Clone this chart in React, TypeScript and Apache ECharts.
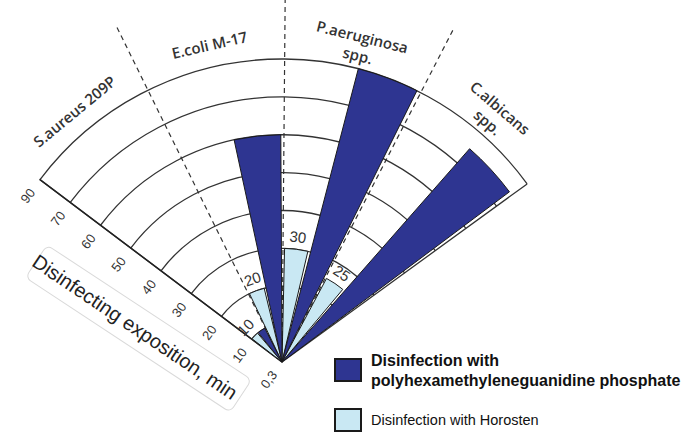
import React, { useEffect, useRef } from 'react';
import * as echarts from 'echarts';

// ---------------- data ----------------
const categories = ['S.aureus 209P', 'E.coli M-17', 'P.aeruginosa spp.', 'C.albicans spp.'];
const categoryLabels = ['S.aureus 209P', 'E.coli M-17', 'P.aeruginosa\nspp.', 'C.albicans\nspp.'];
const phmgValues = [10, 60, 90, 80];
const horostenValues = [10, 20, 30, 25];
const tickValues = [0.3, 10, 20, 30, 40, 50, 60, 70, 90];
const tickLabels = ['0,3', '10', '20', '30', '40', '50', '60', '70', '90'];
const seriesNames = [
  'Disinfection with polyhexamethyleneguanidine phosphate',
  'Disinfection with Horosten',
];
const axisTitle = 'Disinfecting exposition, min';

// ---------------- layout ----------------
const CX = 282;
const CY = 362;
const R = 303;
const R_DASH = 373;
const START = 143;
const END = 36;
const LABEL_R = 8.6;
const FONT = '"Liberation Sans", Arial, sans-serif';

// the radial scale is drawn with evenly spaced rings for the tick values
function toRingIndex(v: number): number {
  for (let i = 1; i < tickValues.length; i++) {
    if (v <= tickValues[i]) {
      const a = tickValues[i - 1];
      const b = tickValues[i];
      return i - 1 + (v - a) / (b - a);
    }
  }
  return tickValues.length - 1;
}

export default function App() {
  const ref = useRef<HTMLDivElement>(null);

  useEffect(() => {
    if (!ref.current) return;
    const chart = echarts.init(ref.current, undefined, { renderer: 'svg' });
    const step = (START - END) / categories.length;
    const hidden = { show: false };

    const legendBase = {
      orient: 'vertical',
      left: 329,
      itemWidth: 26,
      itemHeight: 22,
      icon: 'rect',
      selectedMode: false,
      textStyle: { color: '#111', lineHeight: 20, padding: [0, 0, 0, 5], fontFamily: FONT },
    };

    const option: any = {
      animation: false,
      backgroundColor: '#ffffff',
      textStyle: { fontFamily: FONT },
      polar: [
        { center: [CX, CY], radius: [0, R] },
        { center: [CX, CY], radius: [0, R_DASH] },
        { center: [CX, CY], radius: [0, R] },
      ],
      angleAxis: [
        {
          polarIndex: 0,
          type: 'category',
          data: categories,
          startAngle: START,
          endAngle: END,
          clockwise: true,
          axisLine: hidden,
          axisTick: hidden,
          axisLabel: hidden,
          splitLine: hidden,
        },
        {
          polarIndex: 1,
          type: 'category',
          data: categories.slice(1, 3),
          startAngle: START - step,
          endAngle: END + step,
          clockwise: true,
          axisLine: hidden,
          axisTick: hidden,
          axisLabel: hidden,
          splitLine: { show: true, lineStyle: { color: '#333', width: 1.2, type: [5, 4] } },
        },
        {
          polarIndex: 2,
          type: 'category',
          data: [''],
          startAngle: START,
          endAngle: END,
          clockwise: true,
          axisLine: hidden,
          axisTick: hidden,
          axisLabel: hidden,
          splitLine: { show: true, lineStyle: { color: '#333', width: 1.3 } },
        },
      ],
      radiusAxis: [
        {
          polarIndex: 0,
          type: 'value',
          min: 0,
          max: tickValues.length - 1,
          interval: 1,
          axisLine: { show: true, lineStyle: { color: '#222', width: 1.5 } },
          axisTick: hidden,
          axisLabel: {
            formatter: (v: number) => tickLabels[Math.round(v)] ?? '',
            rotate: 53,
            margin: 13,
            fontSize: 13,
            color: '#333',
          },
          splitLine: { show: true, lineStyle: { color: '#333', width: 1.3 } },
        },
        { polarIndex: 1, type: 'value', show: false },
        { polarIndex: 2, type: 'value', show: false },
      ],
      legend: [
        {
          ...legendBase,
          top: 345,
          data: [{ name: seriesNames[0], textStyle: { fontWeight: 'bold', fontSize: 16 } }],
          formatter: (name: string) => name.replace('with ', 'with\n'),
        },
        {
          ...legendBase,
          top: 403,
          data: [{ name: seriesNames[1], textStyle: { fontSize: 14.5 } }],
        },
      ],
      series: [
        {
          name: seriesNames[1],
          type: 'bar',
          coordinateSystem: 'polar',
          polarIndex: 0,
          data: horostenValues.map(toRingIndex),
          barGap: '12%',
          barCategoryGap: '6%',
          itemStyle: { color: '#c9e8f3', borderColor: '#1a1a1a', borderWidth: 1 },
          label: {
            show: true,
            position: 'end',
            distance: 5,
            formatter: (p: any) => String(horostenValues[p.dataIndex]),
            fontSize: 15,
            color: '#333',
          },
        },
        {
          name: seriesNames[0],
          type: 'bar',
          coordinateSystem: 'polar',
          polarIndex: 0,
          data: phmgValues.map(toRingIndex),
          barGap: '12%',
          barCategoryGap: '6%',
          itemStyle: { color: '#2e3591', borderColor: '#1a1a1a', borderWidth: 1 },
        },
      ],
    };

    chart.setOption(option);

    const texts = categories.map((_, i) => {
      let p: number[] | null = null;
      try {
        p = chart.convertToPixel({ polarIndex: 0 } as any, [LABEL_R, i]) as any;
      } catch (e) {
        p = null;
      }
      if (!p || !isFinite(p[0])) {
        const ang = ((START - (i + 0.5) * step) * Math.PI) / 180;
        const rr = (LABEL_R / (tickValues.length - 1)) * R;
        p = [CX + rr * Math.cos(ang), CY - rr * Math.sin(ang)];
      }
      const theta = Math.atan2(CY - p[1], p[0] - CX);
      return {
        type: 'text',
        x: p[0],
        y: p[1],
        rotation: theta - Math.PI / 2,
        style: {
          text: categoryLabels[i],
          align: 'center',
          verticalAlign: 'middle',
          fontFamily: '"Open Sans", sans-serif',
          fontWeight: 600,
          fontSize: 15,
          lineHeight: 19,
          fill: '#333',
        },
      };
    });

    chart.setOption({
      graphic: [
        ...texts,
        {
          type: 'text',
          x: 135,
          y: 327,
          rotation: (-34 * Math.PI) / 180,
          style: {
            text: axisTitle,
            align: 'center',
            verticalAlign: 'middle',
            fontFamily: FONT,
            fontSize: 20,
            fill: '#222',
          },
        },
        {
          type: 'rect',
          x: 47,
          y: 245,
          rotation: (-33.4 * Math.PI) / 180,
          shape: { x: 0, y: 0, width: 245, height: 39, r: 6 },
          style: { fill: 'none', stroke: '#d9d9d9', lineWidth: 1 },
          z: -1,
        },
      ],
    });

    return () => chart.dispose();
  }, []);

  return (
    <div
      ref={ref}
      style={{ position: 'fixed', left: 0, top: 0, width: 695, height: 432, background: '#fff' }}
    />
  );
}
